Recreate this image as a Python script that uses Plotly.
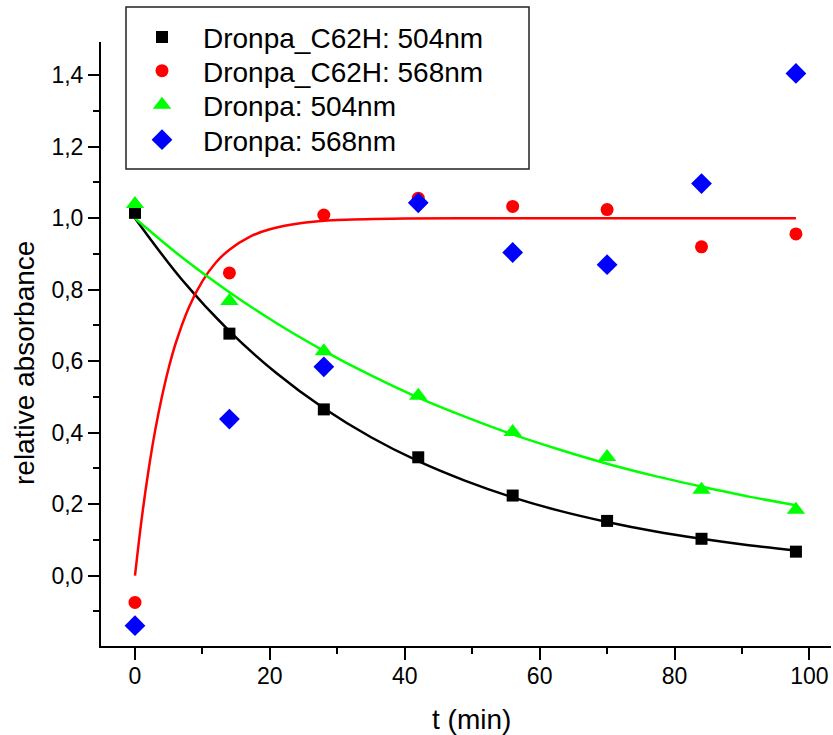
import plotly.graph_objects as go

t = [0, 14, 28, 42, 56, 70, 84, 98]
c62h_504 = [1.015, 0.677, 0.465, 0.331, 0.224, 0.153, 0.103, 0.067]
c62h_568 = [-0.075, 0.847, 1.009, 1.056, 1.033, 1.024, 0.920, 0.956]
dronpa_504 = [1.040, 0.768, 0.628, 0.503, 0.402, 0.332, 0.240, 0.184]
dronpa_568 = [-0.140, 0.438, 0.584, 1.043, 0.904, 0.870, 1.097, 1.405]

# fitted curves
fit_t = [0, 7, 14, 21, 28, 35, 42, 49, 56, 63, 70, 77, 84, 91, 98]
fit_c62h_504 = [1.0, 0.827, 0.684, 0.566, 0.468, 0.387, 0.320, 0.265, 0.219, 0.181, 0.150, 0.124, 0.103, 0.085, 0.070]
fit_dronpa_504 = [1.0, 0.890, 0.793, 0.706, 0.629, 0.560, 0.498, 0.444, 0.395, 0.352, 0.313, 0.279, 0.249, 0.221, 0.197]
fit_t_red = [0, 1, 2, 3, 4, 5, 6, 8, 10, 12, 14, 17, 20, 25, 30, 40, 50, 60, 70, 80, 90, 98]
fit_c62h_568 = [0.0, 0.160, 0.294, 0.407, 0.501, 0.581, 0.648, 0.751, 0.824, 0.876, 0.912, 0.948, 0.969, 0.987, 0.995, 0.999, 1.0, 1.0, 1.0, 1.0, 1.0, 1.0]

FONT = "Arial, Liberation Sans, sans-serif"
W, H = 833, 735
L, R, T, B = 101, 2, 42, 89
PW, PH = W - L - R, H - T - B

def px_x(p):
    return (p - L) / PW

def px_y(p):
    return (H - B - p) / PH

fig = go.Figure()
fig.add_trace(go.Scatter(x=fit_t, y=fit_c62h_504, mode="lines", line=dict(color="black", width=2.5, shape="spline"), showlegend=False))
fig.add_trace(go.Scatter(x=fit_t_red, y=fit_c62h_568, mode="lines", line=dict(color="#ff0000", width=2.5, shape="spline"), showlegend=False))
fig.add_trace(go.Scatter(x=fit_t, y=fit_dronpa_504, mode="lines", line=dict(color="#00ff00", width=2.5, shape="spline"), showlegend=False))

fig.add_trace(go.Scatter(x=t, y=c62h_504, mode="markers", name="Dronpa_C62H: 504nm", legend="legend",
                         marker=dict(symbol="square", size=12, color="black")))
fig.add_trace(go.Scatter(x=t, y=c62h_568, mode="markers", name="Dronpa_C62H: 568nm", legend="legend2",
                         marker=dict(symbol="circle", size=13, color="#ff0000")))
fig.add_trace(go.Scatter(x=t, y=dronpa_504, mode="markers", name="Dronpa: 504nm", legend="legend3",
                         marker=dict(symbol="triangle-up", size=16, color="#00ff00")))
fig.add_trace(go.Scatter(x=t, y=dronpa_568, mode="markers", name="Dronpa: 568nm", legend="legend4",
                         marker=dict(symbol="diamond", size=16, color="#0000ff")))

fig.add_shape(type="rect", xref="paper", yref="paper",
              x0=px_x(126), x1=px_x(529), y0=px_y(169), y1=px_y(7),
              line=dict(color="#222222", width=1.5), fillcolor="rgba(0,0,0,0)", layer="above")

LEG_FS = 28
row_centers = [39, 72.7, 106.7, 141.7]
def leg(cy):
    return dict(x=px_x(121), y=px_y(cy - 26.7), xanchor="left", yanchor="top",
                borderwidth=0, bgcolor="rgba(0,0,0,0)",
                font=dict(size=LEG_FS, family=FONT), itemwidth=72)

fig.update_layout(
    width=W, height=H,
    margin=dict(l=L, r=R, t=T, b=B),
    paper_bgcolor="white", plot_bgcolor="white",
    separators=",.",
    font=dict(family=FONT, color="black", size=23),
    legend=leg(row_centers[0]),
    legend2=leg(row_centers[1]),
    legend3=leg(row_centers[2]),
    legend4=leg(row_centers[3]),
    xaxis=dict(range=[-5.04, 103.2], showline=True, linecolor="black", linewidth=2,
               ticks="outside", ticklen=12, tickwidth=2, tickcolor="black",
               tick0=0, dtick=20, showgrid=False, zeroline=False, automargin=False,
               minor=dict(ticks="outside", ticklen=6, tickwidth=2, tickcolor="black", dtick=10, showgrid=False),
               tickfont=dict(size=23), ticklabelstandoff=-4),
    yaxis=dict(range=[-0.197, 1.493], showline=True, linecolor="black", linewidth=2,
               ticks="outside", ticklen=11, tickwidth=2, tickcolor="black",
               tick0=0, dtick=0.2, tickformat=".1f", showgrid=False, zeroline=False, automargin=False,
               minor=dict(ticks="outside", ticklen=6, tickwidth=2, tickcolor="black", dtick=0.1, showgrid=False),
               tickfont=dict(size=23), ticklabelstandoff=0),
    annotations=[
        dict(text="t (min)", xref="paper", yref="paper", x=px_x(471.7), y=px_y(719),
             xanchor="center", yanchor="middle", showarrow=False, font=dict(size=28, family=FONT)),
        dict(text="relative absorbance", xref="paper", yref="paper", x=px_x(24), y=px_y(363),
             xanchor="center", yanchor="middle", textangle=-90, showarrow=False, font=dict(size=28, family=FONT)),
    ],
)

fig.write_html("out.html", config={"displayModeBar": False})
with open("out.html", "r", encoding="utf-8") as f:
    html = f.read()
html = html.replace("<body>", '<body style="margin:0;padding:0;">', 1)
html = html.replace("<head>", "<head><style>html,body{margin:0;padding:0;}</style>", 1)
with open("out.html", "w", encoding="utf-8") as f:
    f.write(html)
